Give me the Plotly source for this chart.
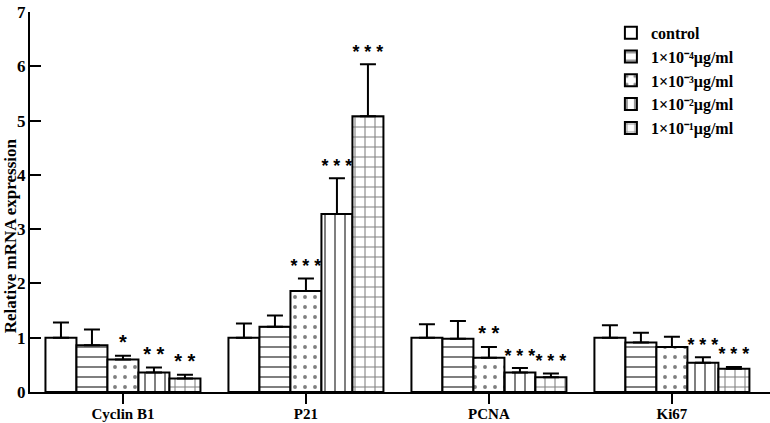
import plotly.graph_objects as go

genes = ["Cyclin B1", "P21", "PCNA", "Ki67"]
doses = ["control",
         "1×10⁻⁴μg/ml",
         "1×10⁻³μg/ml",
         "1×10⁻²μg/ml",
         "1×10⁻¹μg/ml"]

# mean relative expression per dose (one value per gene)
control = [1.00, 1.00, 1.00, 1.00]
dose_1e4 = [0.86, 1.20, 0.98, 0.91]
dose_1e3 = [0.60, 1.86, 0.63, 0.83]
dose_1e2 = [0.36, 3.28, 0.36, 0.54]
dose_1e1 = [0.25, 5.08, 0.27, 0.43]

# upper error (SD) per dose
control_err = [0.28, 0.26, 0.25, 0.23]
dose_1e4_err = [0.29, 0.21, 0.33, 0.18]
dose_1e3_err = [0.07, 0.23, 0.20, 0.19]
dose_1e2_err = [0.09, 0.66, 0.08, 0.10]
dose_1e1_err = [0.07, 0.96, 0.07, 0.03]

# significance marks
control_sig = ["", "", "", ""]
dose_1e4_sig = ["", "", "", ""]
dose_1e3_sig = ["*", "***", "**", ""]
dose_1e2_sig = ["**", "***", "***", "***"]
dose_1e1_sig = ["**", "***", "***", "***"]

values = [control, dose_1e4, dose_1e3, dose_1e2, dose_1e1]
errors = [control_err, dose_1e4_err, dose_1e3_err, dose_1e2_err, dose_1e1_err]
sigs = [control_sig, dose_1e4_sig, dose_1e3_sig, dose_1e2_sig, dose_1e1_sig]
patterns = ["", "-", ".", "|", "+"]
solidity = [0.2, 0.2, 0.12, 0.2, 0.2]

SERIF = "Liberation Serif"

fig = go.Figure()
for i in range(len(doses)):
    fig.add_trace(go.Bar(
        x=genes, y=values[i], name=doses[i], offsetgroup="g" + str(i),
        marker=dict(color="white", line=dict(color="black", width=2),
                    pattern=dict(shape=patterns[i], fgcolor="black", bgcolor="white",
                                 size=10, solidity=solidity[i])),
        error_y=dict(type="data", symmetric=False, array=errors[i],
                     arrayminus=[0] * len(genes), color="black", thickness=2, width=8)))

# invisible bars reaching the error-bar tips, carrying the star labels
for i in range(len(doses)):
    tips = [v + e for v, e in zip(values[i], errors[i])]
    stars = [" ".join(s) for s in sigs[i]]
    fig.add_trace(go.Bar(
        x=genes, y=tips, offsetgroup="g" + str(i), showlegend=False, hoverinfo="skip",
        marker=dict(color="rgba(0,0,0,0)", line=dict(width=0)),
        text=stars, textposition="outside", textangle=0, cliponaxis=False,
        textfont=dict(family="Liberation Sans", size=20, color="#000000")))

fig.update_layout(
    width=770, height=423,
    margin=dict(l=30, r=0, t=12, b=31),
    plot_bgcolor="white", paper_bgcolor="white",
    barmode="group", bargap=0.153, bargroupgap=0,
    font=dict(family=SERIF, color="black", size=16, weight="bold"),
    showlegend=True,
    legend=dict(x=0.785, y=0.99, xanchor="left", yanchor="top",
                font=dict(family=SERIF, size=16, weight="bold"),
                bgcolor="rgba(0,0,0,0)", tracegroupgap=0),
    annotations=[dict(text="Relative mRNA expression", xref="paper", yref="paper",
                      x=-0.027, y=0.41, xanchor="center", yanchor="middle",
                      textangle=-90, showarrow=False,
                      font=dict(family=SERIF, size=17, weight="bold"))],
)
fig.update_xaxes(
    range=[-0.508, 3.536], showline=True, linecolor="black", linewidth=2,
    ticks="outside", ticklen=10, tickwidth=2, tickcolor="black", automargin=False,
    ticklabelstandoff=-3,
    tickfont=dict(family=SERIF, size=15, weight="bold"), showgrid=False)
fig.update_yaxes(
    range=[0, 7.001], tickvals=[0, 1, 2, 3, 4, 5, 6, 7], showline=True, linecolor="black",
    linewidth=2, ticks="inside", ticklen=11, tickwidth=2, tickcolor="black", automargin=False,
    ticklabeloverflow="allow", ticklabelstandoff=-1,
    tickfont=dict(family=SERIF, size=17, weight="bold"), showgrid=False, zeroline=False)

# the page's default body margin would shift the figure by 8px
fig.write_html("out.html", config={"displayModeBar": False},
               post_script="document.body.style.margin='0';")
